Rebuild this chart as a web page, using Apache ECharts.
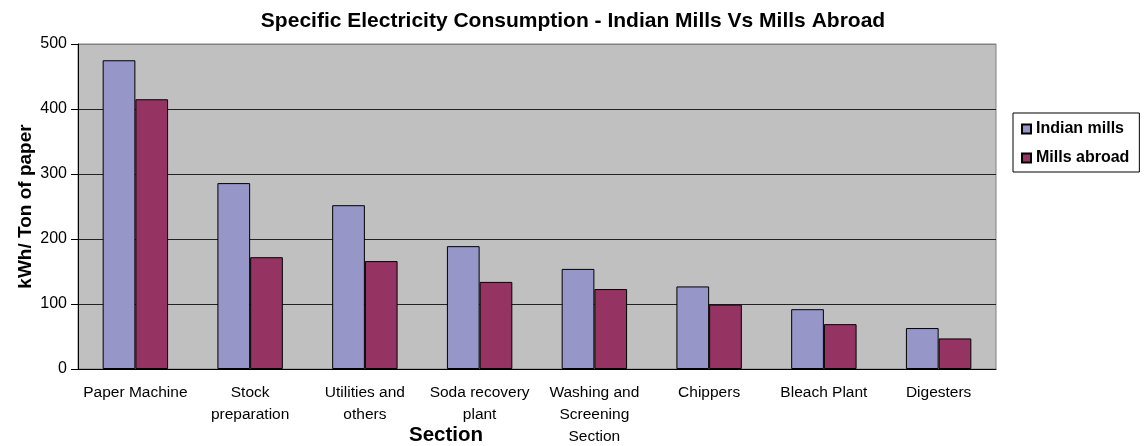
<!DOCTYPE html>
<html lang="en">
<head>
    <meta charset="UTF-8">
    <title>Specific Electricity Consumption</title>
    <script src="https://cdn.jsdelivr.net/npm/echarts@6/dist/echarts.min.js"></script>
</head>
<body style="margin:0;">
<div id="mybox" style="height: 446px;width: 1144px;"></div>
<script>
    // sections and kWh per ton of paper
    var sections = ['Paper Machine', 'Stock\npreparation', 'Utilities and\nothers', 'Soda recovery\nplant',
        'Washing and\nScreening\nSection', 'Chippers', 'Bleach Plant', 'Digesters'];
    var indianMills = [475, 286, 252, 189, 154, 127, 92, 63];
    var millsAbroad = [415, 172, 166, 134, 123, 99, 69, 47];
    var yTicks = [0, 100, 200, 300, 400, 500];

    var font = "'Liberation Sans', Arial, sans-serif";
    var mychart = echarts.init(document.getElementById('mybox'));
    mychart.setOption({
        animation: false,
        textStyle: { fontFamily: font },
        title: {
            text: 'Specific Electricity Consumption - Indian Mills Vs Mills Abroad',
            left: 568,
            top: 6,
            textAlign: 'center',
            textStyle: { fontSize: 21, fontWeight: 'bold', color: '#000', fontFamily: font }
        },
        legend: {
            orient: 'vertical',
            left: 1013,
            top: 113,
            data: ['Indian mills', 'Mills abroad'],
            icon: 'rect',
            itemWidth: 9,
            itemHeight: 9,
            itemGap: 13,
            itemTextGap: 7,
            padding: [8, 10, 6, 8],
            borderColor: '#000',
            borderWidth: 1,
            textStyle: { fontSize: 16, fontWeight: 'bold', color: '#000', fontFamily: font }
        },
        grid: {
            left: 78,
            right: 148,
            top: 44,
            bottom: 77,
            outerBoundsMode: 'none',
            containLabel: false,
            show: true,
            backgroundColor: '#C0C0C0',
            borderColor: '#808080',
            borderWidth: 1
        },
        xAxis: {
            type: 'category',
            data: sections,
            name: 'Section',
            nameLocation: 'middle',
            nameGap: 56,
            nameMoveOverlap: false,
            nameTextStyle: { fontSize: 20.5, fontWeight: 'bold', color: '#000', padding: [0, 182, 0, 0] },
            axisLine: { lineStyle: { color: '#000' } },
            axisTick: { length: 5, lineStyle: { color: '#000' } },
            axisLabel: { interval: 0, margin: 13, fontSize: 15.5, lineHeight: 22, color: '#000' }
        },
        yAxis: {
            type: 'value',
            min: yTicks[0],
            max: yTicks[yTicks.length - 1],
            interval: 100,
            name: 'kWh/ Ton of paper',
            nameLocation: 'middle',
            nameGap: 43,
            nameMoveOverlap: false,
            nameTextStyle: { fontSize: 19, fontWeight: 'bold', color: '#000' },
            axisLine: { show: true, lineStyle: { color: '#000' } },
            axisTick: { show: true, length: 7, lineStyle: { color: '#000' } },
            axisLabel: { margin: 11, fontSize: 16, color: '#000' },
            splitLine: { lineStyle: { color: ['#222', '#222', '#222', '#222', '#222', '#808080'], width: 1 } }
        },
        series: [{
            name: 'Indian mills',
            type: 'bar',
            data: indianMills,
            barGap: '0%',
            barCategoryGap: '43%',
            itemStyle: { color: '#9696C9', borderColor: '#000', borderWidth: 1 }
        }, {
            name: 'Mills abroad',
            type: 'bar',
            data: millsAbroad,
            itemStyle: { color: '#953462', borderColor: '#000', borderWidth: 1 }
        }]
    });
</script>
</body>
</html>
